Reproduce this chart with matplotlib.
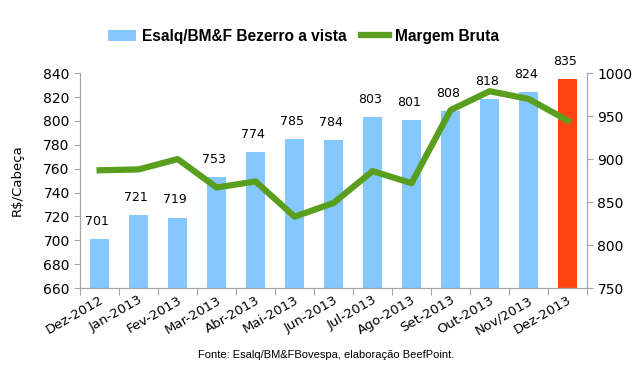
import numpy as np
import matplotlib.pyplot as plt

# Dados
meses = ['Dez-2012', 'Jan-2013', 'Fev-2013', 'Mar-2013', 'Abr-2013', 'Mai-2013',
         'Jun-2013', 'Jul-2013', 'Ago-2013', 'Set-2013', 'Out-2013', 'Nov/2013', 'Dez-2013']
bezerro = [701, 721, 719, 753, 774, 785, 784, 803, 801, 808, 818, 824, 835]
margem = [887, 888, 900, 867, 874, 833, 849, 886, 872, 957, 979, 970, 945]

cor_barra = '#85C8FF'
cor_destaque = '#FF4411'
cor_linha = '#5A9E1E'
cinza = '#A6A6A6'

fig = plt.figure(figsize=(6.36, 3.83), dpi=100)
ax = fig.add_axes([0.126, 0.248, 0.797, 0.561])
ax2 = ax.twinx()

x = np.arange(len(meses))
cores = [cor_barra] * (len(meses) - 1) + [cor_destaque]
barras = ax.bar(x, bezerro, width=0.5, color=cores, zorder=2)
for xi, v in zip(x, bezerro):
    ax.annotate(str(v), (xi, v), xytext=(-2, 8), textcoords='offset points',
                ha='center', va='bottom', fontsize=9)

linha, = ax2.plot(x, margem, color=cor_linha, lw=4.5, zorder=3)

ax.set_xlim(-0.5, len(meses) - 0.5)
ax.set_ylim(660, 840)
ax.set_yticks(range(660, 841, 20))
ax2.set_ylim(750, 1000)
ax2.set_yticks(range(750, 1001, 50))

# ticks entre categorias, rótulos no centro
ax.set_xticks(np.arange(-0.5, len(meses), 1))
ax.set_xticklabels([])
ax.set_xticks(x, minor=True)
ax.set_xticklabels(meses, minor=True, rotation=30, ha='right', rotation_mode='anchor', fontsize=9.5)
ax.tick_params(axis='x', which='minor', length=0, pad=4)
ax.tick_params(axis='x', which='major', length=5, color=cinza)
ax.tick_params(axis='y', length=4, color=cinza, labelsize=10)
ax2.tick_params(axis='y', length=4, color=cinza, labelsize=10)

for a in (ax, ax2):
    a.spines['top'].set_visible(False)
    for s in ('left', 'right', 'bottom'):
        a.spines[s].set_color(cinza)
ax.set_ylabel('R$/Cabeça', fontsize=9.5, labelpad=14)

fig.legend([barras, linha], ['Esalq/BM&F Bezerro a vista', 'Margem Bruta'],
           loc='center', bbox_to_anchor=(0.477, 0.905), ncol=2, frameon=False,
           prop={'family': 'Liberation Sans', 'weight': 'bold', 'size': 11.2},
           handlelength=1.8, handletextpad=0.4, columnspacing=0.9)

fig.text(0.512, 0.072, 'Fonte: Esalq/BM&FBovespa, elaboração BeefPoint.',
         ha='center', va='center', fontsize=8, family='Liberation Sans')

fig.savefig('out.png', dpi=100)
